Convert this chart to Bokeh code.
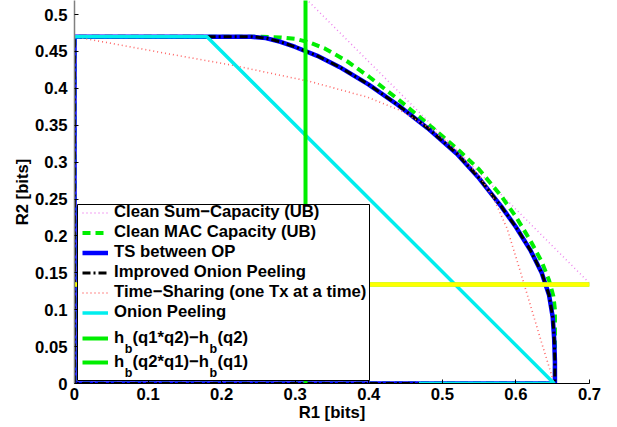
from bokeh.plotting import figure
from bokeh.models import Range1d, FixedTicker, Legend, LegendItem, Label, BoxAnnotation
from bokeh.embed import file_html
from bokeh.resources import INLINE

# ---------------- data ----------------
x_ticks = [0, 0.1, 0.2, 0.3, 0.4, 0.5, 0.6, 0.7]
x_tick_labels = ["0", "0.1", "0.2", "0.3", "0.4", "0.5", "0.6", "0.7"]
y_ticks = [0, 0.05, 0.1, 0.15, 0.2, 0.25, 0.3, 0.35, 0.4, 0.45, 0.5]
y_tick_labels = ["0", "0.05", "0.1", "0.15", "0.2", "0.25", "0.3", "0.35", "0.4", "0.45", "0.5"]

# Clean Sum-Capacity (UB)
sum_r1 = [0.0, 0.836]
sum_r2 = [0.836, 0.0]

# Clean MAC Capacity (UB)
mac_r1 = [0.0, 0.0, 0.25, 0.28, 0.30, 0.32, 0.34, 0.37, 0.40, 0.44, 0.48, 0.52, 0.55, 0.58, 0.60, 0.62, 0.635, 0.645, 0.651, 0.653, 0.653, 0.0]
mac_r2 = [0.0, 0.47, 0.470, 0.469, 0.467, 0.462, 0.454, 0.437, 0.416, 0.385, 0.352, 0.318, 0.290, 0.254, 0.226, 0.193, 0.165, 0.140, 0.118, 0.100, 0.0, 0.0]

# TS between OP / Improved Onion Peeling (coincide)
ts_r1 = [0.0, 0.0, 0.18, 0.24, 0.26, 0.28, 0.30, 0.33, 0.36, 0.40, 0.44, 0.48, 0.52, 0.55, 0.58, 0.60, 0.62, 0.635, 0.645, 0.650, 0.652, 0.653, 0.653, 0.0]
ts_r2 = [0.0, 0.47, 0.47, 0.470, 0.468, 0.463, 0.456, 0.444, 0.429, 0.405, 0.377, 0.346, 0.311, 0.278, 0.240, 0.212, 0.180, 0.150, 0.120, 0.090, 0.060, 0.030, 0.0, 0.0]
iop_r1 = list(ts_r1)
iop_r2 = list(ts_r2)

# Time-Sharing (one Tx at a time)
tdm_r1 = [0.0, 0.126, 0.216, 0.321, 0.398, 0.443, 0.488, 0.52, 0.552, 0.570, 0.588, 0.605, 0.620, 0.635, 0.652]
tdm_r2 = [0.47, 0.447, 0.431, 0.409, 0.388, 0.370, 0.343, 0.315, 0.279, 0.250, 0.210, 0.155, 0.105, 0.055, 0.0]

# Onion Peeling
op_r1 = [0.0, 0.18, 0.652, 0.468]
op_r2 = [0.47, 0.47, 0.0, 0.0]

# h_b(q1*q2)-h_b(q2)  (vertical bound on R1)
hb1_r1 = [0.314, 0.314]
hb1_r2 = [0.0, 0.53]

# h_b(q2*q1)-h_b(q1)  (horizontal bound on R2)
hb2_r1 = [0.0, 0.7]
hb2_r2 = [0.134, 0.134]

legend_labels = [
    "Clean Sum\u2212Capacity (UB)",
    "Clean MAC Capacity (UB)",
    "TS between OP",
    "Improved Onion Peeling",
    "Time\u2212Sharing (one Tx at a time)",
    "Onion Peeling",
    "h\u2002(q1*q2)\u2212h\u2002(q2)",
    "h\u2002(q2*q1)\u2212h\u2002(q1)",
]

FONT = "Liberation Sans"
FS = 16.7
FSS = f"{FS}px"

# ---------------- figure ----------------
FRAME_W, FRAME_H = 515, 383
X_END, Y_END = 0.7, 383 / 738
p = figure(frame_width=FRAME_W, frame_height=FRAME_H,
           x_range=Range1d(0, X_END), y_range=Range1d(0, Y_END),
           output_backend="svg", toolbar_location=None,
           min_border_left=74, min_border_right=20,
           min_border_top=0, min_border_bottom=36)
p.outline_line_color = None
p.grid.visible = False
p.background_fill_color = "white"
p.border_fill_color = "white"

r_sum = p.line(sum_r1, sum_r2, line_color="#ee82ee", line_width=1.5, line_dash="1 3")
r_mac = p.line(mac_r1, mac_r2, line_color="#00ee00", line_width=4, line_dash="8 5")
r_ts = p.line(ts_r1, ts_r2, line_color="#0000ff", line_width=4.5)
r_iop = p.line(iop_r1, iop_r2, line_color="black", line_width=3, line_dash="8 3 2 3")
r_tdm = p.line(tdm_r1, tdm_r2, line_color="#ff6666", line_width=1.6, line_dash="1 3")
r_op = p.line(op_r1, op_r2, line_color="#00eeee", line_width=3.5)
r_hb1 = p.line(hb1_r1, hb1_r2, line_color="#00ee00", line_width=4)
# green style used by the legend entry; drawn under the yellow line of the same data
r_hb2_leg = p.line(hb2_r1, hb2_r2, line_color="#00ee00", line_width=4)
r_hb2 = p.line(hb2_r1, hb2_r2, line_color="#ffff00", line_width=4.5)

# axes
for ax, ticks, labels in ((p.xaxis[0], x_ticks, x_tick_labels), (p.yaxis[0], y_ticks, y_tick_labels)):
    ax.ticker = FixedTicker(ticks=ticks)
    ax.major_label_overrides = {t: l for t, l in zip(ticks, labels)}
    ax.minor_tick_line_color = None
    ax.major_tick_in = 4
    ax.major_tick_out = 0
    ax.major_tick_line_color = "black"
    ax.major_label_text_font = FONT
    ax.major_label_text_font_style = "bold"
    ax.major_label_text_font_size = FSS
    ax.major_label_text_color = "black"
    ax.axis_label_text_font = FONT
    ax.axis_label_text_font_style = "bold"
    ax.axis_label_text_font_size = FSS
    ax.axis_label_text_color = "black"

p.xaxis.axis_label = "R1 [bits]"
p.yaxis.axis_label = "R2 [bits]"
p.xaxis.axis_line_color = "black"
p.yaxis.axis_line_color = "#808080"
p.yaxis.axis_line_width = 1.5
p.xaxis.major_label_standoff = 4
p.xaxis.axis_label_standoff = 0
p.yaxis.major_label_standoff = 7
p.yaxis.axis_label_standoff = 0

# ---------------- legend (pixel layout, picture coords) ----------------
PX = FRAME_W / X_END       # px per unit on x
PY = FRAME_H / Y_END       # px per unit on y
F_LEFT, F_BOTTOM = 74, 383  # frame left / bottom in the picture
BOX_L, BOX_R, BOX_T, BOX_B = 77, 369, 204, 380
GLYPH_X, GW, STAND = 82, 26, 6
ROW_A, ROW_B = 19, 24
A_TOP = BOX_T + 4            # first row top
B_TOP = A_TOP + 6 * ROW_A + 4

box = BoxAnnotation(left=(BOX_L - F_LEFT) / PX, right=(BOX_R - F_LEFT) / PX,
                    top=(F_BOTTOM - BOX_T) / PY, bottom=(F_BOTTOM - BOX_B) / PY,
                    fill_color="white", fill_alpha=1.0,
                    line_color="black", line_width=1, line_alpha=1.0)
p.add_layout(box)

renderers = [r_sum, r_mac, r_ts, r_iop, r_tdm, r_op, r_hb1, r_hb2_leg]
items = [LegendItem(label=l, renderers=[r]) for l, r in zip(legend_labels, renderers)]

common = dict(spacing=0, margin=0, padding=0, glyph_width=GW, label_standoff=STAND,
              label_text_font=FONT, label_text_font_style="bold", label_text_font_size=FSS,
              label_text_color="black",
              border_line_color=None, background_fill_alpha=0.0)
leg_a = Legend(items=items[:6], glyph_height=ROW_A, label_height=ROW_A,
               location=(GLYPH_X - F_LEFT, F_BOTTOM - (A_TOP + 6 * ROW_A)), **common)
leg_b = Legend(items=items[6:], glyph_height=ROW_B, label_height=ROW_B,
               location=(GLYPH_X - F_LEFT, F_BOTTOM - (B_TOP + 2 * ROW_B)), **common)
p.add_layout(leg_a)
p.add_layout(leg_b)

# subscripts "b" for the h_b entries
text_x0 = GLYPH_X + GW + STAND
h_w = 0.611 * FS
first_part_w = (0.611 + 0.5 + 0.333 + 0.611 + 0.556 + 0.389 + 0.611 + 0.556 + 0.333 + 0.584) * FS
for k in range(2):
    cy = B_TOP + ROW_B * k + ROW_B / 2
    base = cy + 10
    for xoff in (h_w, first_part_w + h_w):
        p.add_layout(Label(x=(text_x0 + xoff - F_LEFT) / PX, y=(F_BOTTOM - base) / PY,
                           text="b", text_font=FONT, text_font_style="bold",
                           text_font_size="12.5px", text_baseline="alphabetic",
                           text_align="left", text_color="black", level="overlay"))

open("out.html", "w").write(file_html(p, INLINE))
